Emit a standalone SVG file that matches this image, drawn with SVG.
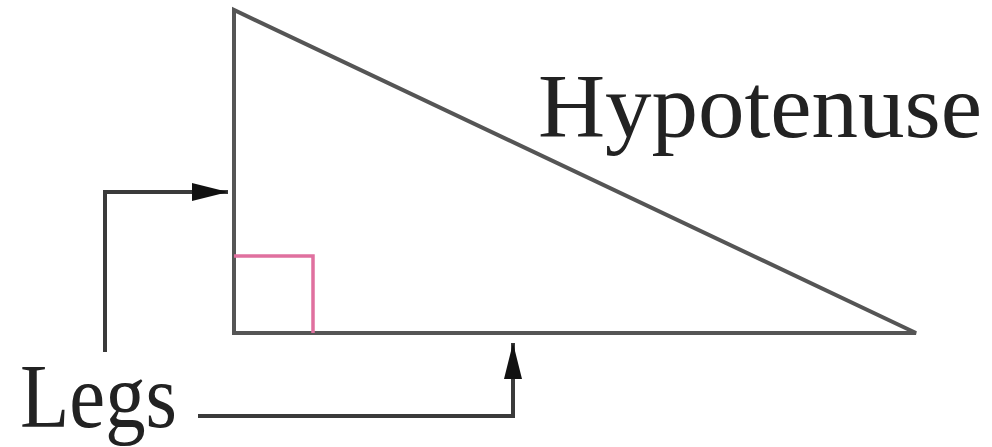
<svg xmlns="http://www.w3.org/2000/svg" width="992" height="447" viewBox="0 0 992 447">
<style>
.edge{fill:none;stroke:#555;stroke-width:4;stroke-linejoin:miter}
.conn{fill:none;stroke:#3a3a3a;stroke-width:4}
.lbl{font-family:"Liberation Serif","Times New Roman",serif;font-size:90px;fill:#222}
</style>
<defs>
<marker id="ah" viewBox="0 0 36 18" refX="36" refY="9" markerWidth="36" markerHeight="18" markerUnits="userSpaceOnUse" orient="auto">
<path d="M0,0 L36,9 L0,18 z" fill="#111"/>
</marker>
</defs>
<g id="triangle">
<path class="edge" d="M234,10 L234,333 L916,333 Z"/>
<path d="M234,256 L313,256 L313,333" fill="none" stroke="#e0709f" stroke-width="3.5"/>
</g>
<g id="hypotenuse-label">
<text class="lbl" x="538" y="137" textLength="444" lengthAdjust="spacingAndGlyphs">Hypotenuse</text>
</g>
<g id="legs-label">
<text class="lbl" x="20" y="427" textLength="157" lengthAdjust="spacingAndGlyphs">Legs</text>
</g>
<g id="connectors">
<path class="conn" d="M105,352 L105,192 L228,192" marker-end="url(#ah)"/>
<path class="conn" d="M198,416 L513,416 L513,343" marker-end="url(#ah)"/>
</g>
</svg>
